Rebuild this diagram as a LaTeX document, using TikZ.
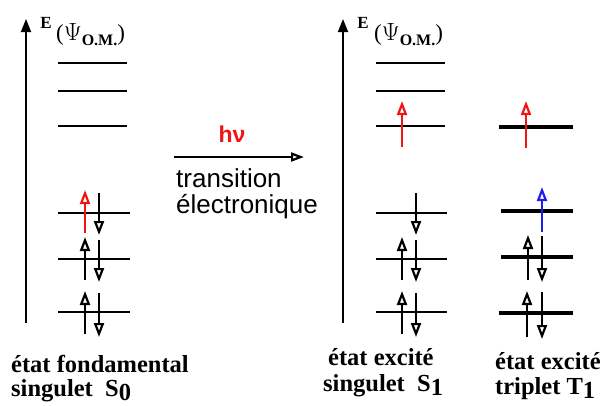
\documentclass[tikz,border=0pt]{standalone}
\usepackage{fontspec}
\setmainfont{Liberation Serif}
\newfontfamily\sansf{Liberation Sans}
\usetikzlibrary{arrows.meta}
\definecolor{ered}{RGB}{240,20,20}
\definecolor{eblue}{RGB}{30,30,240}
\tikzset{
  lvl/.style={line width=1.6pt},
  tlvl/.style={line width=3.2pt},
  axis/.style={line width=1.8pt,-{Triangle[length=13pt,width=10pt]}},
  eup/.style={line width=1.7pt,-{Triangle[open,length=14pt,width=10pt,line width=2.2pt]}},
  lbl/.style={font=\fontsize{24.5}{26}\selectfont\bfseries,anchor=west,inner sep=0pt},
  elbl/.style={font=\fontsize{17}{18}\selectfont\bfseries,inner sep=0pt},
}
\newcommand{\psiom}{{\fontsize{23}{24}\selectfont (\(\Psi\)\raisebox{-5pt}{\fontsize{16}{17}\selectfont\bfseries O.M.})}}
\begin{document}
\begin{tikzpicture}[x=1pt,y=-1pt]
\useasboundingbox (0,0) rectangle (605,405);
% axes
\coordinate (a0) at (26,323); \coordinate (a1) at (26,19);
\coordinate (b0) at (343,323); \coordinate (b1) at (343,19);
\draw[axis] (a0) -- (a1);
\draw[axis] (b0) -- (b1);
\node[elbl] (E1) at (46,23) {E};
\node[inner sep=0pt,anchor=west] (P1) at (56,35) {\psiom};
\node[elbl] (E2) at (363,23) {E};
\node[inner sep=0pt,anchor=west] (P2) at (374,35) {\psiom};
% S0 levels
\foreach \y in {63,91,126}{\draw[lvl] (58,\y) -- (127,\y);}
\foreach \y in {213,259,312}{\draw[lvl] (58,\y) -- (130,\y);}
% S0 electrons
\draw[eup,ered] (85,233) -- (85,190);
\draw[eup] (99,193) -- (99,235);
\draw[eup] (85,280) -- (85,237);
\draw[eup] (99,240) -- (99,282);
\draw[eup] (85,334) -- (85,291);
\draw[eup] (99,293) -- (99,337);
% S1 levels
\foreach \y in {63,91,126}{\draw[lvl] (376,\y) -- (445,\y);}
\foreach \y in {213,259,312}{\draw[lvl] (376,\y) -- (447,\y);}
\draw[eup,ered] (402,147) -- (402,101);
\draw[eup] (416,193) -- (416,235);
\draw[eup] (402,280) -- (402,237);
\draw[eup] (416,240) -- (416,282);
\draw[eup] (402,334) -- (402,291);
\draw[eup] (416,293) -- (416,337);
% T1 levels
\draw[tlvl] (499,127) -- (573,127);
\draw[tlvl] (501,211) -- (573,211);
\draw[tlvl] (501,257) -- (573,257);
\draw[tlvl] (499,313) -- (573,313);
\draw[eup,ered] (526,148) -- (526,101);
\draw[eup,eblue] (542,232) -- (542,187);
\draw[eup] (528,280) -- (528,235);
\draw[eup] (542,236) -- (542,282);
\draw[eup] (527,337) -- (527,291);
\draw[eup] (542,292) -- (542,339);
% transition
\coordinate (h0) at (174,157); \coordinate (h1) at (304,157);
\draw[line width=2.2pt,-{Triangle[open,length=13pt,width=9pt,line width=2.2pt]}] (h0) -- (h1);
\node[text=ered,font=\sansf\fontsize{23}{24}\selectfont\bfseries,inner sep=0pt] (hv) at (232,134) {hν};
\node[font=\sansf\fontsize{26}{26}\selectfont,anchor=north west,align=left,inner sep=0pt] (tr) at (176,168) {transition\\électronique};
% labels
\node[lbl] (l1) at (11,364) {état fondamental};
\node[lbl] (l2) at (11,391) {singulet\ \ S\raisebox{-4pt}{0}};
\node[lbl] (l3) at (328,357) {état excité};
\node[lbl] (l4) at (323,386) {singulet\ \ S\raisebox{-4pt}{1}};
\node[lbl] (l5) at (495,361) {état excité};
\node[lbl] (l6) at (495,389) {triplet T\raisebox{-4pt}{1}};
\end{tikzpicture}
\end{document}
